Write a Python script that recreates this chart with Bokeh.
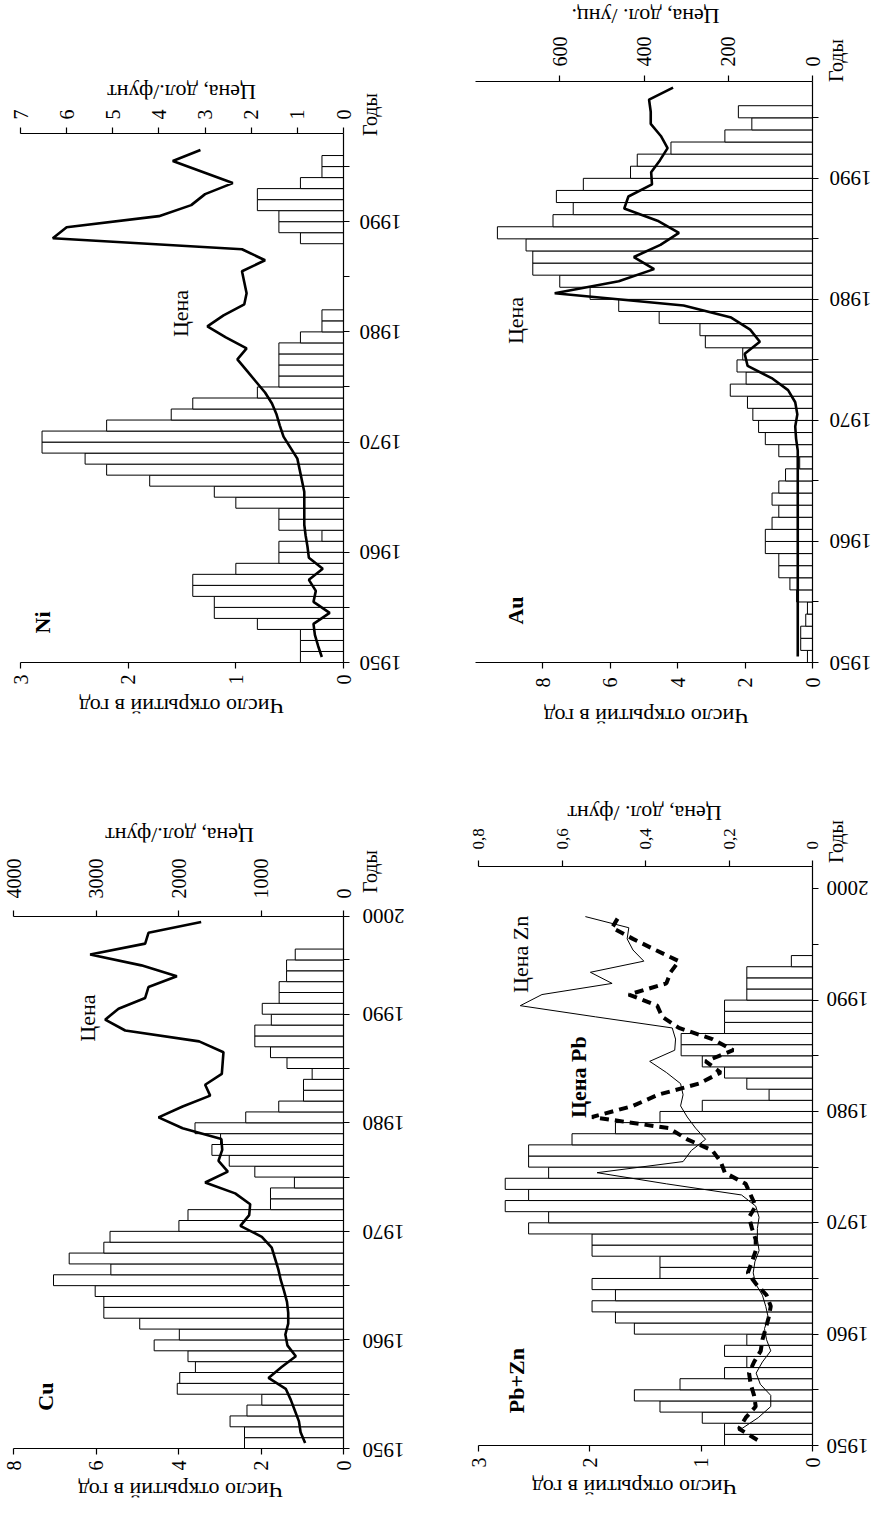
import math
from bokeh.plotting import figure
from bokeh.models import Range1d, LinearAxis, FixedTicker, Label, CustomLabelingPolicy
from bokeh.layouts import row, column
from bokeh.embed import file_html
from bokeh.resources import INLINE
from bokeh.core.properties import value

FONT = "Liberation Serif"

# ---------------- data ----------------
# Ni
ni_years = list(range(1950, 1996))
ni_counts = [0.4, 0.4, 0.4, 0.8, 1.2, 1.2, 1.4, 1.4, 1.0, 0.6,
             0.6, 0.2, 0.6, 0.6, 1.0, 1.2, 1.8, 2.2, 2.4, 2.8,
             2.8, 2.2, 1.6, 1.4, 0.8, 0.6, 0.6, 0.6, 0.6, 0.4,
             0.2, 0.2, 0.0, 0.0, 0.0, 0.0, 0.0, 0.0, 0.4, 0.6,
             0.6, 0.8, 0.8, 0.4, 0.2, 0.2]
ni_price_years = list(range(1950, 1997))
ni_price = [0.47, 0.55, 0.62, 0.65, 0.3, 0.65, 0.6, 0.75, 0.45, 0.75,
            0.78, 0.82, 0.85, 0.85, 0.85, 0.85, 0.9, 0.95, 1.0, 1.15,
            1.3, 1.38, 1.45, 1.55, 1.7, 1.9, 2.1, 2.3, 2.1, 2.55,
            2.95, 2.6, 2.15, 2.1, 2.15, 2.2, 1.7, 2.2, 6.3, 6.0,
            4.0, 3.3, 3.0, 2.4, 3.05, 3.7, 3.1]

# Au
au_years = list(range(1950, 1996))
au_counts = [0.15, 0.35, 0.35, 0.2, 0.15, 0.47, 0.67, 1.0, 1.0, 1.4,
             1.4, 1.2, 1.0, 1.2, 1.0, 0.8, 0.38, 1.0, 1.4, 1.6,
             1.77, 1.93, 2.44, 1.97, 2.24, 2.07, 3.18, 3.34, 4.55, 5.75,
             6.6, 7.5, 8.3, 8.3, 8.5, 9.35, 7.7, 7.1, 7.6, 6.8,
             5.4, 5.2, 4.2, 2.6, 1.8, 2.2]
au_price_years = list(range(1950, 1998))
au_price = [35, 35, 35, 35, 35, 35, 35, 35, 35, 35,
            35, 35, 35, 35, 35, 35, 35, 35, 39, 41,
            36, 41, 58, 97, 154, 161, 125, 148, 193, 306,
            612, 460, 376, 424, 361, 317, 368, 447, 437, 381,
            383, 362, 344, 360, 384, 384, 388, 331]

# Cu
cu_years = list(range(1950, 1996))
cu_counts = [2.4, 2.4, 2.75, 2.34, 1.98, 4.03, 3.97, 3.59, 3.77, 4.59,
             3.98, 4.94, 5.81, 5.81, 6.02, 7.03, 5.64, 6.65, 5.81, 5.66,
             3.99, 3.77, 1.77, 1.77, 1.19, 2.15, 2.77, 3.19, 2.98, 3.6,
             2.37, 1.57, 0.97, 0.97, 0.76, 1.37, 1.77, 2.15, 2.15, 1.75,
             1.97, 1.56, 1.56, 1.38, 1.38, 1.17]
cu_price_years = list(range(1950, 1999))
cu_price = [465, 520, 540, 590, 640, 700, 909, 750, 578, 680,
            705, 670, 670, 685, 720, 760, 790, 830, 870, 990,
            1250, 1143, 1131, 1313, 1677, 1402, 1515, 1470, 1480, 1950,
            2242, 1950, 1616, 1677, 1475, 1465, 1455, 1750, 2646, 2889,
            2727, 2404, 2364, 2020, 2450, 3071, 2404, 2364, 1725]

# Pb+Zn
pz_years = list(range(1950, 1994))
pz_counts = [0.79, 0.79, 0.99, 1.37, 1.6, 1.19, 0.79, 0.59, 0.79, 0.59,
             1.6, 1.77, 1.98, 1.77, 1.98, 1.37, 1.37, 1.98, 1.98, 2.55,
             2.37, 2.76, 2.55, 2.76, 2.37, 2.55, 2.55, 2.16, 1.77, 1.37,
             0.99, 0.39, 0.59, 0.79, 0.99, 1.18, 1.18, 0.79, 0.79, 0.79,
             0.59, 0.59, 0.59, 0.19]
pb_price_years = list(range(1950, 1998))
pb_price = [0.132, 0.176, 0.16, 0.136, 0.14, 0.148, 0.152, 0.14, 0.124, 0.12,
            0.112, 0.105, 0.10, 0.11, 0.135, 0.155, 0.145, 0.136, 0.136, 0.145,
            0.152, 0.136, 0.148, 0.16, 0.21, 0.22, 0.24, 0.30, 0.344, 0.528,
            0.43, 0.37, 0.272, 0.22, 0.256, 0.19, 0.24, 0.32, 0.36, 0.372,
            0.44, 0.35, 0.34, 0.32, 0.376, 0.43, 0.48, 0.464]
zn_price_years = list(range(1951, 1998))
zn_price = [0.17, 0.13, 0.10, 0.10, 0.125, 0.135, 0.12, 0.10, 0.11,
            0.115, 0.106, 0.112, 0.12, 0.136, 0.142, 0.138, 0.128, 0.132, 0.132,
            0.128, 0.136, 0.17, 0.35, 0.516, 0.31, 0.29, 0.256, 0.28, 0.30,
            0.316, 0.31, 0.316, 0.35, 0.39, 0.33, 0.328, 0.336, 0.52, 0.70,
            0.648, 0.48, 0.532, 0.404, 0.43, 0.444, 0.44, 0.544]

count_title = "Число открытий в год"
year_title = "Годы"
price_word = "Цена"

# ---------------- layout geometry (page pixels) ----------------
NI = dict(x0=8, fx0=28, fx1=352, fy0=141, fy1=670, T=113, B=696, oy=8, H=752, sw=86,
          cmax=3, cticks=[0, 1, 2, 3], pmax=7, pticks=[0, 1, 2, 3, 4, 5, 6, 7], yend=1998,
          yticks=list(range(1950, 1996, 5)), c_std=6, p_std=8, psize="20px")
AU = dict(x0=448, fx0=483, fx1=821, fy0=89, fy1=670, T=41, B=700, oy=8, H=752, sw=48,
          cmax=10, cticks=[0, 2, 4, 6, 8], pmax=800, pticks=[0, 200, 400, 600], yend=1998,
          yticks=list(range(1950, 1996, 5)), c_std=9, p_std=9, psize="20px")
CU = dict(x0=8, fx0=21, fx1=352, fy0=923, fy1=1457, T=863, B=1481, oy=760, H=751, sw=86,
          cmax=8, cticks=[0, 2, 4, 6, 8], pmax=4000, pticks=[0, 1000, 2000, 3000, 4000],
          yend=1999, yticks=list(range(1950, 1996, 5)) + [1999], c_std=6, p_std=12,
          psize="20px")
PZ = dict(x0=448, fx0=486, fx1=821, fy0=873, fy1=1453, T=833, B=1478, oy=760, H=751, sw=48,
          cmax=3, cticks=[0, 1, 2, 3], pmax=0.8, pticks=[0, 0.2, 0.4, 0.6, 0.8],
          plabels={0: "0", 0.2: "0,2", 0.4: "0,4", 0.6: "0,6", 0.8: "0,8"}, yend=2002,
          yticks=list(range(1950, 2001, 5)), c_std=6, p_std=11, psize="17px")
RIGHT_PAD = 10


# ---------------- helpers ----------------
def ppy(c):
    return (c["fy1"] - c["fy0"]) / (c["yend"] - 1950)


def page_to_year(c, Y):
    return 1950 + (c["fy1"] - Y) / ppy(c)


def page_to_count(c, X):
    return c["cmax"] * (c["fx1"] - X) / (c["fx1"] - c["fx0"])


def blank(fig):
    fig.grid.visible = False
    fig.outline_line_color = None
    fig.background_fill_color = "white"
    fig.border_fill_color = "white"
    try:
        fig.frame_align = False
    except Exception:
        pass


def style_axis(ax, orient, standoff, size="20px"):
    ax.axis_line_color = "black"
    ax.axis_line_width = 1.2
    ax.major_tick_line_color = "black"
    ax.major_tick_line_width = 1.2
    ax.major_tick_out = 6
    ax.major_tick_in = 0
    ax.minor_tick_line_color = None
    ax.major_label_text_font = FONT
    ax.major_label_text_font_size = size
    ax.major_label_text_color = "black"
    ax.major_label_orientation = orient
    ax.major_label_standoff = standoff


def make_main(c):
    w = c["fx1"] + RIGHT_PAD - c["x0"]
    h = c["B"] - c["T"]
    p = figure(width=w, height=h,
               x_range=Range1d(c["cmax"], 0), y_range=Range1d(1950, c["yend"]),
               output_backend="svg", toolbar_location=None,
               x_axis_location="below", y_axis_location="right",
               min_border_left=c["fx0"] - c["x0"], min_border_right=RIGHT_PAD,
               min_border_top=c["fy0"] - c["T"], min_border_bottom=c["B"] - c["fy1"])
    blank(p)
    p.extra_x_ranges = {"price": Range1d(c["pmax"], 0)}

    cax = p.below[0]
    cax.ticker = FixedTicker(ticks=c["cticks"])
    style_axis(cax, math.pi / 2, c["c_std"])

    pax = LinearAxis(x_range_name="price", ticker=FixedTicker(ticks=c["pticks"]))
    style_axis(pax, math.pi / 2, c["p_std"], c["psize"])
    if "plabels" in c:
        pax.major_label_overrides = c["plabels"]
    p.add_layout(pax, "above")

    # year axis: line and ticks here, its labels are drawn in the side strip
    yax = p.right[0]
    yax.ticker = FixedTicker(ticks=c["yticks"])
    style_axis(yax, "horizontal", 0, "1px")
    yax.major_label_policy = CustomLabelingPolicy(
        code="for (const i of indices) { indices.unset(i) }\nreturn indices")
    return p


def add_label(p, c, X, Y, text, size="22px", bold=False):
    p.add_layout(Label(x=page_to_count(c, X), y=page_to_year(c, Y), text=text,
                       angle=math.pi / 2, text_font=FONT, text_font_size=size,
                       text_font_style="bold" if bold else "normal",
                       text_color="black", text_align="center",
                       text_baseline="middle"))


def make_strip(c, top, bottom, X, Y, text):
    w = c["fx1"] + RIGHT_PAD - c["x0"]
    h = bottom - top
    s = figure(width=w, height=h, x_range=Range1d(0, w), y_range=Range1d(0, h),
               output_backend="svg", toolbar_location=None,
               x_axis_location=None, y_axis_location=None, min_border=0)
    blank(s)
    s.text(x=[X - c["x0"]], y=[bottom - Y], text=[text], angle=math.pi,
           text_font=value(FONT), text_font_size="22px", text_color="black",
           text_align="center", text_baseline="middle")
    return s


def make_side(c, label_x, labels, title_xy):
    k = ppy(c)
    yr = Range1d(1950 - (c["oy"] + c["H"] - c["fy1"]) / k,
                 c["yend"] + (c["fy0"] - c["oy"]) / k)
    s = figure(width=c["sw"], height=c["H"], x_range=Range1d(0, c["sw"]), y_range=yr,
               output_backend="svg", toolbar_location=None,
               x_axis_location=None, y_axis_location=None, min_border=0)
    blank(s)
    ys = list(labels.keys())
    s.text(x=[label_x] * len(ys), y=ys, text=list(labels.values()),
           angle=math.pi, text_font=value(FONT), text_font_size="21px",
           text_color="black", text_align="center", text_baseline="middle")
    x_side0 = c["fx1"] + RIGHT_PAD
    tx, ty = title_xy
    s.text(x=[tx - x_side0], y=[page_to_year(c, ty)], text=[year_title],
           angle=math.pi / 2, text_font=value(FONT), text_font_size="20px",
           text_color="black", text_align="center", text_baseline="middle")
    return s


def panel_column(c, main, top_title, bottom_title):
    top = make_strip(c, c["oy"], c["T"], *top_title)
    bot = make_strip(c, c["B"], c["oy"] + c["H"], *bottom_title)
    return column(top, main, bot)


decades_98 = {1950: "1950", 1960: "1960", 1970: "1970", 1980: "1980", 1990: "1990"}
decades_cu = {1950: "1950", 1960: "1960", 1970: "1970", 1980: "1980", 1990: "1990",
              1999: "2000"}
decades_pz = {1950: "1950", 1960: "1960", 1970: "1970", 1980: "1980", 1990: "1990",
              2000: "2000"}

BAR = dict(height=1, fill_color="white", line_color="black", line_width=1)

# Ni
ni = make_main(NI)
ni.hbar(y=[y + 0.5 for y in ni_years], left=0, right=ni_counts, **BAR)
ni.line(x=ni_price, y=[y + 0.5 for y in ni_price_years], x_range_name="price",
        line_color="black", line_width=2.6)
add_label(ni, NI, 50, 630, "Ni", bold=True)
add_label(ni, NI, 188, 321, price_word)
ni_col = panel_column(NI, ni, (189, 100, "Цена, дол./фунт"), (189, 714, count_title))
ni_side = make_side(NI, 26, decades_98, (377, 122))

# Au
au = make_main(AU)
au.hbar(y=[y + 0.5 for y in au_years], left=0, right=au_counts, **BAR)
au.line(x=au_price, y=[y + 0.5 for y in au_price_years], x_range_name="price",
        line_color="black", line_width=2.6)
add_label(au, AU, 523, 618, "Au", bold=True)
add_label(au, AU, 523, 328, price_word)
au_col = panel_column(AU, au, (653, 24, "Цена, дол. /унц."), (651, 724, "Число  открытий в год"))
au_side = make_side(AU, 27, decades_98, (843, 68))

# Cu
cu = make_main(CU)
cu.hbar(y=[y + 0.5 for y in cu_years], left=0, right=cu_counts, **BAR)
cu.line(x=cu_price, y=[y + 0.5 for y in cu_price_years], x_range_name="price",
        line_color="black", line_width=2.6)
add_label(cu, CU, 53, 1405, "Cu", bold=True)
add_label(cu, CU, 95, 1025, price_word)
cu_col = panel_column(CU, cu, (187, 843, "Цена, дол./фунт"), (188, 1498, count_title))
cu_side = make_side(CU, 29, decades_cu, (377, 879))

# Pb+Zn
pz = make_main(PZ)
pz.hbar(y=[y + 0.5 for y in pz_years], left=0, right=pz_counts, **BAR)
pz.line(x=zn_price, y=[y + 0.5 for y in zn_price_years], x_range_name="price",
        line_color="black", line_width=1)
pz.line(x=pb_price, y=[y + 0.5 for y in pb_price_years], x_range_name="price",
        line_color="black", line_width=4, line_dash="9 6")
add_label(pz, PZ, 524, 1388, "Pb+Zn", bold=True)
add_label(pz, PZ, 528, 961, "Цена Zn")
add_label(pz, PZ, 586, 1084, "Цена Pb", bold=True)
pz_col = panel_column(PZ, pz, (652, 821, "Цена, дол. /фунт"), (642, 1495, count_title))
pz_side = make_side(PZ, 24, decades_pz, (843, 849))

layout = column(row(ni_col, ni_side, au_col, au_side),
                row(cu_col, cu_side, pz_col, pz_side))

with open("out.html", "w") as f:
    f.write(file_html(layout, INLINE))
